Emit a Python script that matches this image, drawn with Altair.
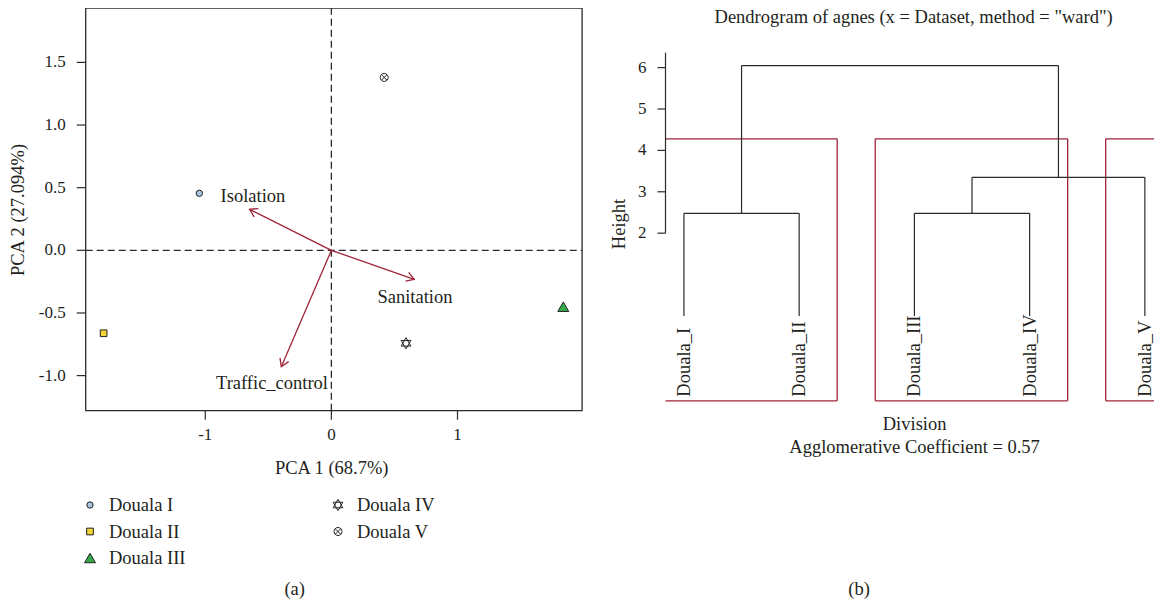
import math
import altair as alt
import pandas as pd

# ---------------- data: panel (a) PCA biplot ----------------
divisions = ["Douala I", "Douala II", "Douala III", "Douala IV", "Douala V"]
pc1 = [-1.047, -1.806, 1.839, 0.592, 0.419]
pc2 = [0.455, -0.662, -0.450, -0.742, 1.380]
variables = ["Isolation", "Sanitation", "Traffic_control"]
load1 = [-0.649, 0.657, -0.397]
load2 = [0.327, -0.231, -0.929]
lab1 = [-0.622, 0.663, -0.471]
lab2 = [0.436, -0.373, -1.058]
xticks_a = [-1, 0, 1]
xtick_labels_a = ["-1", "0", "1"]
yticks_a = [-1.0, -0.5, 0.0, 0.5, 1.0, 1.5]
ytick_labels_a = ["-1.0", "-0.5", "0.0", "0.5", "1.0", "1.5"]
XLIM_A = [-1.948, 1.988]
YLIM_A = [-1.28, 1.934]

# ---------------- data: panel (b) dendrogram ----------------
leaves = ["Douala_I", "Douala_II", "Douala_III", "Douala_IV", "Douala_V"]
merge_left = [-1, -3, 2, 1]     # R hclust convention (negative = leaf)
merge_right = [-2, -4, -5, 3]
merge_height = [2.48, 2.48, 3.35, 6.05]
yticks_b = [2, 3, 4, 5, 6]
cluster_start = [0.66, 2.66, 4.66]
cluster_end = [2.33, 4.33, 5.33]
cut_height = 4.28
XLIM_B = [0.84, 5.16]
YLIM_B = [-2.1, 6.36]
RECT_BOTTOM = -2.05
LABEL_Y = -1.95

# ---------------- styling ----------------
FONT = "Liberation Serif"
FS = 18.5
FS_TICK = 17
TXT = "#231F20"
LINE = "#2b2b2b"
RED = "#9E2438"

# pixel ranges (chart coordinates)
XR_A = [77.7, 574.1]
YR_A = [402.7, 0.0]
XR_B = [657.5, 1155.3]
YR_B = [394.9, 44.7]

xs_a = alt.Scale(domain=XLIM_A, range=XR_A, nice=False, zero=False)
ys_a = alt.Scale(domain=YLIM_A, range=YR_A, nice=False, zero=False)
xs_b = alt.Scale(domain=XLIM_B, range=XR_B, nice=False, zero=False)
ys_b = alt.Scale(domain=YLIM_B, range=YR_B, nice=False, zero=False)

star_path = "M0,-1L0.866,0.5L-0.866,0.5ZM0,1L0.866,-0.5L-0.866,-0.5Z"
circx_path = "M-1,0A1,1 0 1,0 1,0A1,1 0 1,0 -1,0ZM-0.7,-0.7L0.7,0.7M-0.7,0.7L0.7,-0.7"
shape_scale = alt.Scale(domain=divisions, range=["circle", "square", "triangle-up", star_path, circx_path])
fill_scale = alt.Scale(domain=divisions, range=["#a9c6e2", "#f1d43a", "#36a846", "transparent", "transparent"])
size_scale = alt.Scale(type="ordinal", domain=divisions, range=[40, 45, 120, 125, 64])

# ---------------- panel (a) ----------------
pts = pd.DataFrame({"division": divisions, "pc1": pc1, "pc2": pc2})
vecs = pd.DataFrame({"var": variables, "l1": load1, "l2": load2, "t1": lab1, "t2": lab2})
vecs["o1"] = 0.0
vecs["o2"] = 0.0
ppx = (XR_A[1] - XR_A[0]) / (XLIM_A[1] - XLIM_A[0])
ppy = (YR_A[0] - YR_A[1]) / (YLIM_A[1] - YLIM_A[0])
vecs["ang"] = [math.degrees(math.atan2(-b * ppy, a * ppx)) % 360 for a, b in zip(load1, load2)]

box = pd.DataFrame({"x": [XLIM_A[0]], "x2": [XLIM_A[1]], "y": [YLIM_A[0]], "y2": [YLIM_A[1]]})
frame = alt.Chart(box).mark_rect(fill="transparent", stroke=LINE, strokeWidth=1.3).encode(
    x=alt.X("x:Q", scale=xs_a, axis=None), x2="x2", y=alt.Y("y:Q", scale=ys_a, axis=None), y2="y2")

zero_lines = pd.DataFrame({
    "x": [0.0, XLIM_A[0]], "x2": [0.0, XLIM_A[1]],
    "y": [YLIM_A[0], 0.0], "y2": [YLIM_A[1], 0.0]})
dashes = alt.Chart(zero_lines).mark_rule(color=LINE, strokeDash=[7, 4], strokeWidth=1.3).encode(
    x=alt.X("x:Q", scale=xs_a, axis=None), x2="x2", y=alt.Y("y:Q", scale=ys_a, axis=None), y2="y2")

xt = pd.DataFrame({"t": xticks_a, "lab": xtick_labels_a, "base": YLIM_A[0]})
yt = pd.DataFrame({"t": yticks_a, "lab": ytick_labels_a, "base": XLIM_A[0]})
xtick_marks = alt.Chart(xt).mark_rule(color=LINE, y2Offset=9, strokeWidth=1.2).encode(
    x=alt.X("t:Q", scale=xs_a, axis=None), y=alt.Y("base:Q", scale=ys_a, axis=None), y2="base")
xtick_text = alt.Chart(xt).mark_text(font=FONT, fontSize=FS_TICK, color=TXT, dy=24, baseline="middle").encode(
    x=alt.X("t:Q", scale=xs_a, axis=None), y=alt.Y("base:Q", scale=ys_a, axis=None), text="lab")
ytick_marks = alt.Chart(yt).mark_rule(color=LINE, x2Offset=-9, strokeWidth=1.2).encode(
    y=alt.Y("t:Q", scale=ys_a, axis=None), x=alt.X("base:Q", scale=xs_a, axis=None), x2="base")
ytick_text = alt.Chart(yt).mark_text(font=FONT, fontSize=FS_TICK, color=TXT, dx=-20, align="right", baseline="middle").encode(
    y=alt.Y("t:Q", scale=ys_a, axis=None), x=alt.X("base:Q", scale=xs_a, axis=None), text="lab")

arrows = alt.Chart(vecs).mark_rule(color=RED, strokeWidth=1.3).encode(
    x=alt.X("o1:Q", scale=xs_a, axis=None), y=alt.Y("o2:Q", scale=ys_a, axis=None), x2="l1", y2="l2")
heads = alt.Chart(vecs).mark_point(shape="M-1,-0.62L0,0L-1,0.62", size=230, filled=False,
                                   color=RED, strokeWidth=1.3, opacity=1).encode(
    x=alt.X("l1:Q", scale=xs_a, axis=None), y=alt.Y("l2:Q", scale=ys_a, axis=None),
    angle=alt.Angle("ang:Q", scale=None))
var_text = alt.Chart(vecs).mark_text(font=FONT, fontSize=FS, color=TXT, baseline="middle").encode(
    x=alt.X("t1:Q", scale=xs_a, axis=None), y=alt.Y("t2:Q", scale=ys_a, axis=None), text="var")

points = alt.Chart(pts).mark_point(filled=True, stroke="#222", strokeWidth=1, opacity=1).encode(
    x=alt.X("pc1:Q", scale=xs_a, axis=None), y=alt.Y("pc2:Q", scale=ys_a, axis=None),
    shape=alt.Shape("division:N", scale=shape_scale, legend=None),
    fill=alt.Fill("division:N", scale=fill_scale, legend=None),
    size=alt.Size("division:N", scale=size_scale, legend=None))

panel_a = alt.layer(frame, dashes, xtick_marks, xtick_text, ytick_marks, ytick_text,
                    arrows, heads, var_text, points)

# ---------------- legend for (a) ----------------
leg = pd.DataFrame({"division": divisions,
                    "col": [i // 3 for i in range(len(divisions))],
                    "row": [i % 3 for i in range(len(divisions))]})
lx = alt.Scale(domain=[0, 1], range=[82, 330], nice=False, zero=False)
ly = alt.Scale(domain=[0, 2], range=[497, 550], nice=False, zero=False)
leg_pts = alt.Chart(leg).mark_point(filled=True, stroke="#222", strokeWidth=1, opacity=1).encode(
    x=alt.X("col:Q", scale=lx, axis=None), y=alt.Y("row:Q", scale=ly, axis=None),
    shape=alt.Shape("division:N", scale=shape_scale, legend=None),
    fill=alt.Fill("division:N", scale=fill_scale, legend=None),
    size=alt.Size("division:N", scale=size_scale, legend=None))
leg_txt = alt.Chart(leg).mark_text(font=FONT, fontSize=FS, color=TXT, align="left", baseline="middle", dx=19).encode(
    x=alt.X("col:Q", scale=lx, axis=None), y=alt.Y("row:Q", scale=ly, axis=None), text="division")
legend = alt.layer(leg_pts, leg_txt)

# ---------------- panel (b) dendrogram ----------------
node_x, node_h = {}, {}
def pos(ref):
    if ref < 0:
        return float(-ref), 0.0
    return node_x[ref], node_h[ref]
segs = []
for k, (l, r, h) in enumerate(zip(merge_left, merge_right, merge_height), start=1):
    lxp, lh = pos(l)
    rxp, rh = pos(r)
    segs.append({"x": lxp, "x2": lxp, "y": lh, "y2": h})
    segs.append({"x": rxp, "x2": rxp, "y": rh, "y2": h})
    segs.append({"x": lxp, "x2": rxp, "y": h, "y2": h})
    node_x[k] = (lxp + rxp) / 2
    node_h[k] = h
segs = pd.DataFrame(segs)
tree = alt.Chart(segs).mark_rule(color=LINE, strokeWidth=1.2).encode(
    x=alt.X("x:Q", scale=xs_b, axis=None), x2="x2", y=alt.Y("y:Q", scale=ys_b, axis=None), y2="y2")

# cluster rectangles, clipped to the plotting region of the dendrogram
edges = []
for s, e in zip(cluster_start, cluster_end):
    cs, ce = max(s, XLIM_B[0]), min(e, XLIM_B[1])
    edges.append({"x": cs, "x2": ce, "y": cut_height, "y2": cut_height})
    edges.append({"x": cs, "x2": ce, "y": RECT_BOTTOM, "y2": RECT_BOTTOM})
    if s >= XLIM_B[0]:
        edges.append({"x": s, "x2": s, "y": RECT_BOTTOM, "y2": cut_height})
    if e <= XLIM_B[1]:
        edges.append({"x": e, "x2": e, "y": RECT_BOTTOM, "y2": cut_height})
edges = pd.DataFrame(edges)
cl_rects = alt.Chart(edges).mark_rule(color=RED, strokeWidth=1.3).encode(
    x=alt.X("x:Q", scale=xs_b, axis=None), x2="x2", y=alt.Y("y:Q", scale=ys_b, axis=None), y2="y2")

leaf_df = pd.DataFrame({"leaf": leaves, "pos": list(range(1, len(leaves) + 1)), "ly": LABEL_Y})
leaf_txt = alt.Chart(leaf_df).mark_text(font=FONT, fontSize=FS, color=TXT, angle=270,
                                        align="left", baseline="middle").encode(
    x=alt.X("pos:Q", scale=xs_b, axis=None), y=alt.Y("ly:Q", scale=ys_b, axis=None), text="leaf")

axis_line = pd.DataFrame({"x": [XLIM_B[0]], "y": [min(yticks_b)], "y2": [YLIM_B[1]]})
yaxis_b = alt.Chart(axis_line).mark_rule(color=LINE, strokeWidth=1.2).encode(
    x=alt.X("x:Q", scale=xs_b, axis=None), y=alt.Y("y:Q", scale=ys_b, axis=None), y2="y2")
ytb = pd.DataFrame({"t": yticks_b, "lab": [str(v) for v in yticks_b], "base": XLIM_B[0]})
ytick_b = alt.Chart(ytb).mark_rule(color=LINE, x2Offset=-8, strokeWidth=1.2).encode(
    y=alt.Y("t:Q", scale=ys_b, axis=None), x=alt.X("base:Q", scale=xs_b, axis=None), x2="base")
ytick_b_txt = alt.Chart(ytb).mark_text(font=FONT, fontSize=FS_TICK, color=TXT, dx=-19, align="right", baseline="middle").encode(
    y=alt.Y("t:Q", scale=ys_b, axis=None), x=alt.X("base:Q", scale=xs_b, axis=None), text="lab")

panel_b = alt.layer(cl_rects, tree, yaxis_b, ytick_b, ytick_b_txt, leaf_txt)

# ---------------- annotation texts ----------------
def label(text, x, y, angle=0):
    kw = dict(font=FONT, fontSize=FS, color=TXT, align="center", baseline="middle")
    if angle:
        kw["angle"] = angle
    return alt.Chart(pd.DataFrame({"t": [text]})).mark_text(**kw).encode(
        text="t:N", x=alt.value(x), y=alt.value(y))

notes = alt.layer(
    label("PCA 1 (68.7%)", 323.7, 460),
    label("PCA 2 (27.094%)", 10, 202, angle=270),
    label("(a)", 286.7, 581),
    label("Dendrogram of agnes (x = Dataset, method = \"ward\")", 905.6, 8.7),
    label("Height", 611, 216, angle=270),
    label("Division", 906.6, 416.3),
    label("Agglomerative Coefficient = 0.57", 906.6, 438.7),
    label("(b)", 851, 581),
)

chart = alt.layer(panel_a, legend, panel_b, notes).resolve_scale(
    x="independent", y="independent"
).properties(
    width=1146, height=591, padding=0,
    autosize=alt.AutoSizeParams(type="none"), background="white"
).configure_view(stroke=None)

chart.save("out.html", embed_options={"renderer": "svg", "actions": False})
